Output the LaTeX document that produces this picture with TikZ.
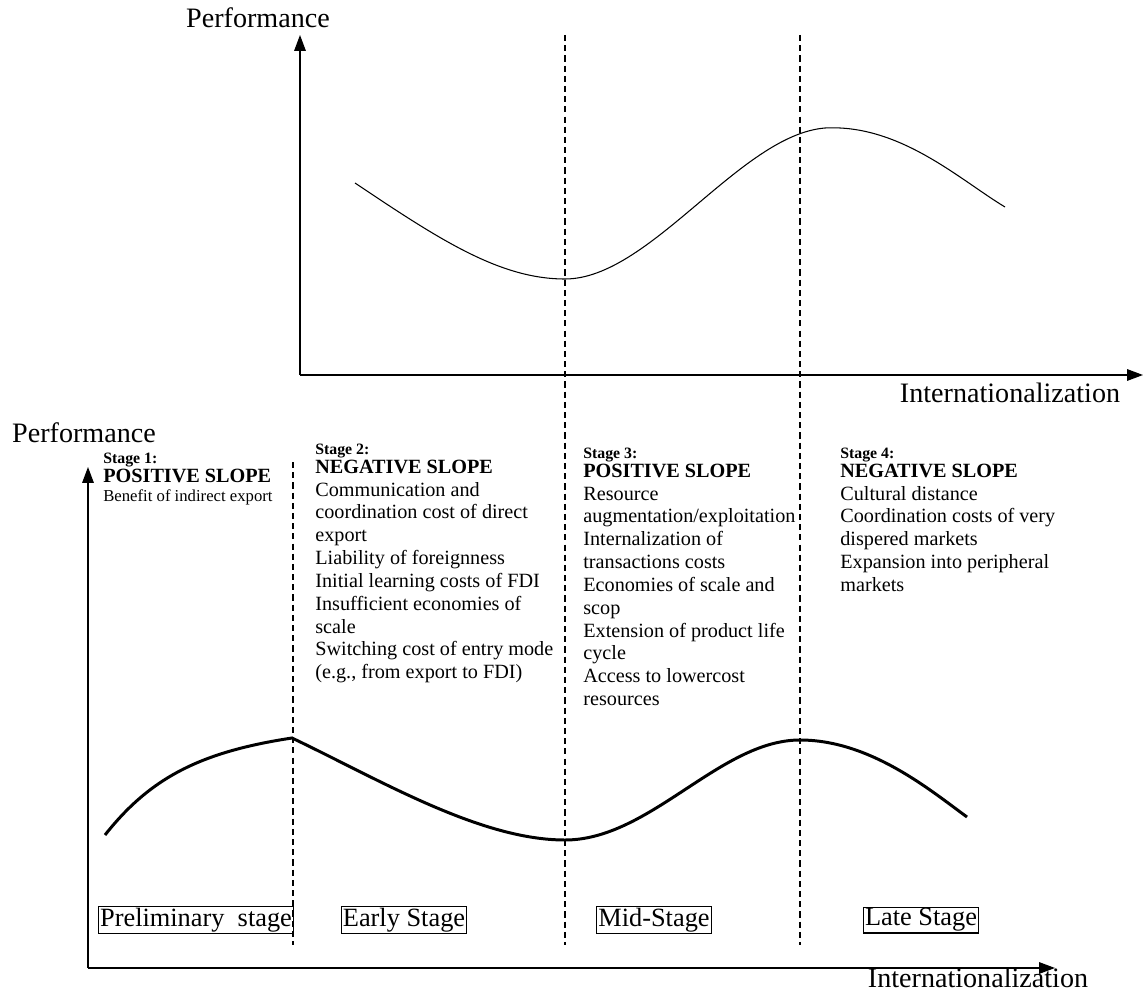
\documentclass[tikz,border=0pt]{standalone}
\usepackage{fontspec}
\setmainfont{Liberation Serif}
\usetikzlibrary{arrows.meta}

\begin{document}
\begin{tikzpicture}[x=0.02cm, y=-0.02cm,
    axis/.style={-{Triangle[length=9pt,width=6.5pt]}, line width=0.8pt},
    stageline/.style={dash pattern=on 3.5pt off 2.3pt, line width=0.7pt},
    axislabel/.style={inner sep=0pt, font=\fontsize{16}{18}\selectfont},
    stagetext/.style={anchor=north west, align=left, inner sep=0pt, font=\fontsize{11.5}{13}\selectfont},
    stagebox/.style={draw, line width=0.6pt, inner sep=0.8pt, font=\fontsize{15}{17}\selectfont}]
  \useasboundingbox (0,0) rectangle (1146,993);

  % upper plot
  \coordinate (o1) at (300,375);
  \coordinate (ytop1) at (300,35);
  \coordinate (xend1) at (1143,375);
  \draw [axis] (o1) -- (ytop1);
  \draw [axis] (o1) -- (xend1);
  \node [axislabel] (perf1) at (258,18) {Performance};
  \node [axislabel] (intl1) at (1010,393) {Internationalization};
  \draw [line width=0.6pt] (355,183) .. controls (440,240) and (500,279) .. (565,279)
      .. controls (650,279) and (740,135) .. (825,128)
      .. controls (900,124) and (960,180) .. (1005,207);

  % stage borders
  \draw [stageline] (293,462) -- (293,945);
  \draw [stageline] (565,35) -- (565,945);
  \draw [stageline] (800,35) -- (800,945);

  % lower plot
  \coordinate (o2) at (88,968);
  \coordinate (ytop2) at (88,467);
  \coordinate (xend2) at (1055,968);
  \draw [axis] (o2) -- (ytop2);
  \draw [axis] (o2) -- (xend2);
  \node [axislabel] (perf2) at (84,433) {Performance};
  \node [axislabel] (intl2) at (978,978) {Internationalization};
  \draw [line width=1.7pt] (105,835) .. controls (150,778) and (200,752) .. (292,738)
      .. controls (380,780) and (480,840) .. (565,840)
      .. controls (650,840) and (720,740) .. (800,740)
      .. controls (870,740) and (930,790) .. (967,817);

  % what drives each slope
  \node [stagetext, font=\fontsize{9.5}{10.8}\selectfont] (s1) at (103,453)
    {{\bfseries\fontsize{9}{10.8}\selectfont Stage 1:}\\
     {\bfseries\fontsize{11.5}{10.8}\selectfont POSITIVE SLOPE}\\
     Benefit of indirect export};
  \node [stagetext] (s2) at (315,444)
    {{\bfseries\fontsize{9}{13}\selectfont Stage 2:}\\[-2.5pt]
     \textbf{NEGATIVE SLOPE}\\
     Communication and\\
     coordination cost of direct\\
     export\\
     Liability of foreignness\\
     Initial learning costs of FDI\\
     Insufficient economies of\\
     scale\\
     Switching cost of entry mode\\
     (e.g., from export to FDI)};
  \node [stagetext] (s3) at (583,448)
    {{\bfseries\fontsize{9}{13}\selectfont Stage 3:}\\[-2.5pt]
     \textbf{POSITIVE SLOPE}\\
     Resource\\
     augmentation/exploitation\\
     Internalization of\\
     transactions costs\\
     Economies of scale and\\
     scop\\
     Extension of product life\\
     cycle\\
     Access to lowercost\\
     resources};
  \node [stagetext] (s4) at (840,448)
    {{\bfseries\fontsize{9}{13}\selectfont Stage 4:}\\[-2.5pt]
     \textbf{NEGATIVE SLOPE}\\
     Cultural distance\\
     Coordination costs of very\\
     dispered markets\\
     Expansion into peripheral\\
     markets};

  % stage names
  \node [stagebox] (prelim) at (196,920) {Preliminary\ \ stage};
  \node [stagebox] (early) at (404,920) {Early Stage};
  \node [stagebox] (mid) at (654,920) {Mid-Stage};
  \node [stagebox] (late) at (921,920) {Late Stage};
\end{tikzpicture}
\end{document}
